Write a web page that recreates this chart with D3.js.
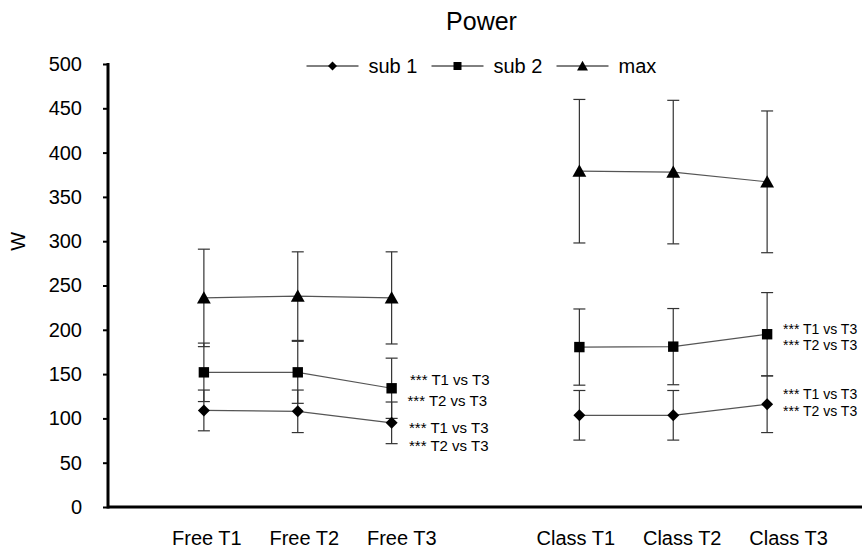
<!DOCTYPE html>
<html>
<head>
<meta charset="utf-8">
<script src="https://cdn.jsdelivr.net/npm/d3@7"></script>
<style>
  html, body { margin: 0; padding: 0; background: #fff; }
  text { font-family: "Liberation Sans", Arial, sans-serif; fill: #000; }
</style>
</head>
<body>
<svg id="chart" width="865" height="552"></svg>
<script>
// ---------- data ----------
const slots = ["Free T1", "Free T2", "Free T3", "gap", "Class T1", "Class T2", "Class T3"];
const freeCats = ["Free T1", "Free T2", "Free T3"];
const classCats = ["Class T1", "Class T2", "Class T3"];
const categories = freeCats.concat(classCats);

const sub1Mean = [109, 108, 95, 103.5, 103.5, 116];
const sub1SD   = [23, 24, 23.5, 28, 28, 32];
const sub2Mean = [152, 152, 134, 180.5, 181, 195];
const sub2SD   = [33, 35, 34, 43, 43, 47];
const maxMean  = [236, 238, 236, 379, 378, 367];
const maxSD    = [55, 50, 52, 81, 81, 80];

const seriesNames = ["sub 1", "sub 2", "max"];
const yTicks = [0, 50, 100, 150, 200, 250, 300, 350, 400, 450, 500];
const annotFree = ["*** T1 vs T3", "*** T2 vs T3", "*** T1 vs T3", "*** T2 vs T3"];
const annotClass = ["*** T1 vs T3", "*** T2 vs T3", "*** T1 vs T3", "*** T2 vs T3"];

// ---------- setup ----------
const svg = d3.select("#chart");
const x = d3.scalePoint().domain(slots).range([110, 861]).padding(1);
const y = d3.scaleLinear().domain([0, 500]).range([507, 64]);

const series = [
  { name: seriesNames[0], mean: sub1Mean, sd: sub1SD, shape: "diamond" },
  { name: seriesNames[1], mean: sub2Mean, sd: sub2SD, shape: "square" },
  { name: seriesNames[2], mean: maxMean,  sd: maxSD,  shape: "triangle" }
];

function markerPath(shape, s) {
  if (shape === "diamond") return `M0,${-s}L${s},0L0,${s}L${-s},0Z`;
  if (shape === "square") return `M${-s},${-s}H${s}V${s}H${-s}Z`;
  return `M0,${-s}L${s * 1.05},${s * 0.85}L${-s * 1.05},${s * 0.85}Z`;
}
const markerSize = { diamond: 6, square: 5.2, triangle: 6.6 };
const legendSize = { diamond: 4.5, square: 4, triangle: 5.2 };

// ---------- title ----------
svg.append("text").attr("x", 481.5).attr("y", 30).attr("text-anchor", "middle")
  .style("font-size", "25px").text("Power");

// ---------- y axis ----------
const yAxis = d3.axisLeft(y).tickValues(yTicks).tickSize(5).tickPadding(21);
const gy = svg.append("g").attr("transform", "translate(108,0)").call(yAxis);
gy.select(".domain").remove();
gy.selectAll(".tick line").attr("stroke", "#000").attr("stroke-width", 2);
gy.selectAll(".tick text").style("font-size", "20px")
  .style("font-family", "'Liberation Sans', Arial, sans-serif").attr("fill", "#000");
svg.append("line").attr("x1", 108).attr("x2", 108).attr("y1", y(500) - 1).attr("y2", y(0) + 1.5)
  .attr("stroke", "#000").attr("stroke-width", 3);

svg.append("text").attr("transform", `translate(25,${y(300)}) rotate(-90)`)
  .attr("text-anchor", "middle").style("font-size", "20px").text("W");

// ---------- x axis ----------
svg.append("line").attr("x1", 108).attr("x2", 862).attr("y1", y(0)).attr("y2", y(0))
  .attr("stroke", "#000").attr("stroke-width", 3);

// category labels: laid out as one spaced text line (as in original)
const xl = svg.append("text").attr("x", 172).attr("y", 545)
  .style("font-size", "20px").style("white-space", "pre");
const gaps = ["", "     ", "     ", "                  ", "     ", "     "];
categories.forEach((c, i) => {
  xl.append("tspan").text(gaps[i] + c);
});

// ---------- data marks ----------
const groups = [freeCats, classCats];
const lineGen = d3.line().x(d => x(d.cat)).y(d => y(d.v));

series.forEach(s => {
  const pts = categories.map((c, i) => ({ cat: c, v: s.mean[i], sd: s.sd[i] }));
  groups.forEach(g => {
    const gp = pts.filter(p => g.includes(p.cat));
    svg.append("path").datum(gp).attr("d", lineGen)
      .attr("fill", "none").attr("stroke", "#555").attr("stroke-width", 1.2);
  });
  const eb = svg.append("g").selectAll("g").data(pts).join("g");
  eb.append("line")
    .attr("x1", d => x(d.cat)).attr("x2", d => x(d.cat))
    .attr("y1", d => y(d.v + d.sd)).attr("y2", d => y(d.v - d.sd))
    .attr("stroke", "#333").attr("stroke-width", 1.2);
  [1, -1].forEach(sign => {
    eb.append("line")
      .attr("x1", d => x(d.cat) - 6).attr("x2", d => x(d.cat) + 6)
      .attr("y1", d => y(d.v + sign * d.sd)).attr("y2", d => y(d.v + sign * d.sd))
      .attr("stroke", "#333").attr("stroke-width", 1.2);
  });
});
series.forEach(s => {
  const pts = categories.map((c, i) => ({ cat: c, v: s.mean[i] }));
  svg.append("g").selectAll("path").data(pts).join("path")
    .attr("transform", d => `translate(${x(d.cat)},${y(d.v)})`)
    .attr("d", markerPath(s.shape, markerSize[s.shape]))
    .attr("fill", "#000");
});

// ---------- annotations ----------
const fa = svg.append("g").style("font-size", "15px");
const freeAnnotY = [384.5, 405.5, 432.5, 450.5];
const freeAnnotX = [410, 407.5, 409, 409];
annotFree.forEach((t, i) => {
  fa.append("text").attr("x", freeAnnotX[i]).attr("y", freeAnnotY[i]).text(t);
});
const ca = svg.append("g").style("font-size", "14px");
const classAnnotY = [333.5, 350, 399, 415.5];
annotClass.forEach((t, i) => {
  ca.append("text").attr("x", 783).attr("y", classAnnotY[i]).text(t);
});

// ---------- legend ----------
const leg = svg.append("g");
series.forEach((s, i) => {
  const x0 = 306.5 + i * 125;
  const gy0 = 66;
  leg.append("line").attr("x1", x0).attr("x2", x0 + 52).attr("y1", gy0).attr("y2", gy0)
    .attr("stroke", "#000").attr("stroke-width", 1);
  leg.append("path").attr("transform", `translate(${x0 + 26},${gy0})`)
    .attr("d", markerPath(s.shape, legendSize[s.shape])).attr("fill", "#000");
  leg.append("text").attr("x", x0 + 62).attr("y", gy0 + 7).style("font-size", "20px").text(s.name);
});
</script>
</body>
</html>
